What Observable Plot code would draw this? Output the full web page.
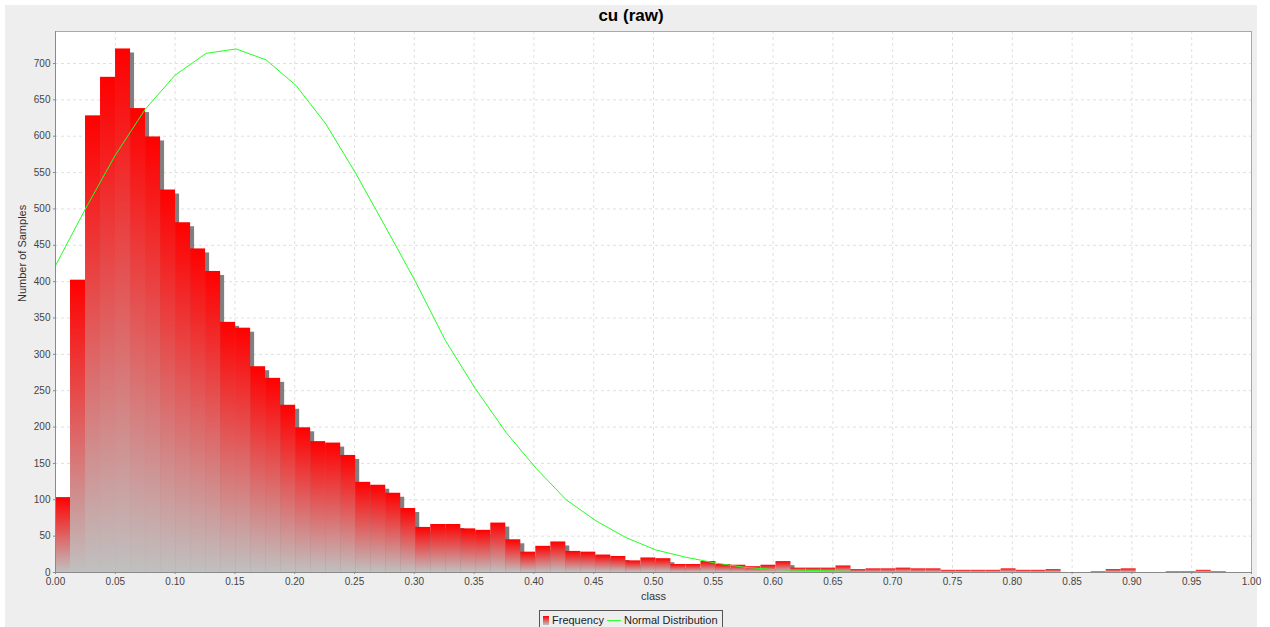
<!DOCTYPE html>
<html>
<head>
<meta charset="utf-8">
<script src="https://cdn.jsdelivr.net/npm/d3@7"></script>
<script src="https://cdn.jsdelivr.net/npm/@observablehq/plot@0.6"></script>
<style>
  html, body { margin: 0; padding: 0; background: #ffffff; }
  body { width: 1270px; height: 627px; overflow: hidden; position: relative;
         font-family: "Liberation Sans", Arial, sans-serif; }
  #panel { position: absolute; left: 5px; top: 5px; width: 1252px; height: 630px; background: #eeeeee; }
  #title { position: absolute; left: 0; top: 1px; width: 1252px; text-align: center;
           font-weight: bold; font-size: 17px; line-height: 20px; color: #000; }
  #chart { position: absolute; left: -5px; top: 21px; width: 1270px; height: 581px; }
  #chart svg { max-width: none; display: block; }
  #legend { position: absolute; left: 534px; top: 605px; width: 182px; height: 20px;
            border: 1px solid #555; background: #eeeeee; }
  #legend .swatch { position: absolute; left: 3px; top: 5px; width: 6px; height: 9px;
                    background: linear-gradient(#ff0000, #c0c0c0); }
  #legend .line { position: absolute; left: 67px; top: 9px; width: 14px; height: 1px; background: #33ff33; }
  #legend .lbl { position: absolute; top: 3px; font-size: 11px; line-height: 13px; color: #222; white-space: nowrap; }
</style>
</head>
<body>
<div id="panel">
  <div id="title">cu (raw)</div>
  <div id="chart"></div>
  <div id="legend">
    <div class="swatch"></div><div class="lbl" style="left:12px">Frequency</div>
    <div class="line"></div><div class="lbl" style="left:84px">Normal Distribution</div>
  </div>
</div>
<script>
// Histogram of cu (raw): width of one class and the sample count in each class
const classWidth = 0.01255;
const frequency = [
  103, 402, 628, 681, 720, 638, 599, 526, 481, 445,
  414, 344, 336, 283, 267, 230, 199, 180, 178, 161,
  124, 120, 109, 88, 62, 66, 66, 60, 58, 68,
  45, 28, 36, 42, 29, 28, 24, 22, 16, 20,
  19, 11, 11, 15, 11, 10, 8, 10, 15, 6,
  6, 6, 9, 4, 5, 5, 6, 5, 5, 3,
  3, 3, 3, 5, 3, 3, 4, 0, 0, 1,
  4, 5, 0, 0, 1, 1, 3, 1, 0, 0
];

// Fitted normal distribution, sampled along the class axis
const normalX = [
  0.000, 0.025, 0.050, 0.075, 0.100, 0.126, 0.151, 0.176, 0.201, 0.226,
  0.251, 0.276, 0.301, 0.326, 0.351, 0.377, 0.402, 0.427, 0.452, 0.477,
  0.502, 0.527, 0.552, 0.577, 0.602, 0.628, 0.653, 0.678, 0.703, 0.728,
  0.753, 0.778, 0.803, 0.828, 0.853, 0.879, 0.904, 0.929, 0.954, 0.979, 1.004
];
const normalY = [
  422, 500, 574, 637, 684, 714, 720, 705, 670, 617,
  549, 475, 400, 319, 253, 192, 143, 100, 71, 48,
  31, 21, 13, 7, 4, 3, 2, 1, 1, 0.5,
  0, 0, 0, 0, 0, 0, 0, 0, 0, 0, 0
];

// Axis ticks
const xTicks = [0, 0.05, 0.1, 0.15, 0.2, 0.25, 0.3, 0.35, 0.4, 0.45, 0.5,
                0.55, 0.6, 0.65, 0.7, 0.75, 0.8, 0.85, 0.9, 0.95, 1];
const yTicks = [0, 50, 100, 150, 200, 250, 300, 350, 400, 450, 500, 550, 600, 650, 700];

const bins = frequency
  .map((n, i) => ({x1: i * classWidth, x2: (i + 1) * classWidth, n}))
  .filter(d => d.n > 0);
const normal = normalX.map((x, i) => ({x, y: normalY[i]}));

// Vertical red-to-grey fill used by every bar
const barGradient = () => {
  const defs = d3.create("svg:defs");
  const g = defs.append("linearGradient")
    .attr("id", "barFill").attr("x1", 0).attr("y1", 0).attr("x2", 0).attr("y2", 1);
  g.append("stop").attr("offset", "0%").attr("stop-color", "#ff0000");
  g.append("stop").attr("offset", "100%").attr("stop-color", "#c0c0c0");
  return defs.node();
};

const chart = Plot.plot({
  width: 1270,
  height: 581,
  marginLeft: 55,
  marginRight: 19,
  marginTop: 5,
  marginBottom: 35,
  style: {fontFamily: "'Liberation Sans', Arial, sans-serif", fontSize: "10px", background: "transparent", color: "#444", maxWidth: "none"},
  x: {domain: [0, 1]},
  y: {domain: [0, 744]},
  marks: [
    barGradient,
    Plot.frame({fill: "white", stroke: null}),
    Plot.gridX(xTicks, {stroke: "#e0e0e0", strokeOpacity: 1, strokeDasharray: "3,3"}),
    Plot.gridY(yTicks, {stroke: "#e0e0e0", strokeOpacity: 1, strokeDasharray: "3,3"}),
    // bar shadows, offset down and to the right
    Plot.rectY(bins, {x1: "x1", x2: "x2", y: "n", dx: 4, dy: 4, fill: "#808080", clip: true}),
    Plot.rectY(bins, {x1: "x1", x2: "x2", y: "n", fill: "url(#barFill)", clip: true}),
    Plot.line(normal, {x: "x", y: "y", stroke: "#22ff22", strokeWidth: 1, clip: true}),
    Plot.frame({stroke: "#a8a8a8"}),
    Plot.ruleX([0], {stroke: "#8a8a8a"}),
    Plot.ruleY([0], {stroke: "#8a8a8a"}),
    Plot.axisX({ticks: xTicks, tickFormat: d3.format(".2f"), tickSize: 2, tickPadding: 3, stroke: "#8a8a8a", fill: "#444", label: null}),
    Plot.axisY({ticks: yTicks, tickFormat: d => String(d), tickSize: 2, tickPadding: 3, stroke: "#8a8a8a", fill: "#444", label: null}),
    Plot.text(["Number of Samples"], {frameAnchor: "left", dx: -33, rotate: -90, fontSize: 11, fill: "#333"}),
    Plot.text(["class"], {frameAnchor: "bottom", dy: 27, fontSize: 11, fill: "#333"})
  ]
});
document.getElementById("chart").appendChild(chart);
</script>
</body>
</html>
